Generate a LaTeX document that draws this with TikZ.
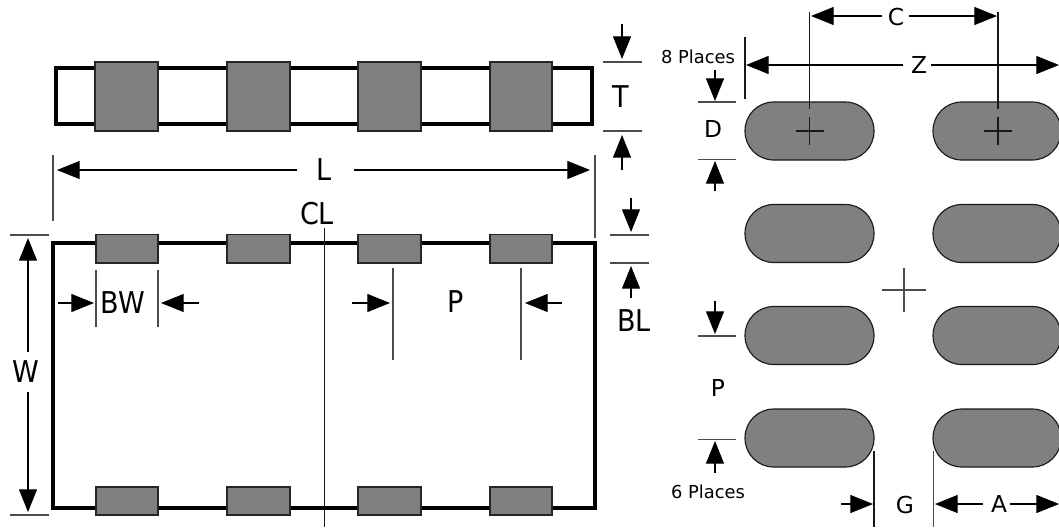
\documentclass[tikz,border=0pt]{standalone}
\usepackage{fontspec}
\setmainfont{DejaVu Sans}[FakeStretch=0.9]
\newfontfamily\widerface{DejaVu Sans}
\usetikzlibrary{arrows.meta}
\definecolor{padgray}{gray}{0.5}
\tikzset{
  x=0.75pt,y=-0.75pt,
  body/.style={draw=black,line width=2.3pt,fill=white},
  pad/.style={draw=black!85,line width=1.1pt,fill=padgray},
  land/.style={draw=black!90,line width=0.85pt,fill=padgray,rounded corners=21.5pt},
  ext/.style={draw=black!70,line width=0.8pt},
  extd/.style={draw=black!90,line width=0.8pt},
  dimar/.style={draw=black,line width=0.8pt,-{Triangle[length=17pt,width=13.5pt]}},
  big/.style={font=\fontsize{22.5}{25}\selectfont,inner sep=0pt},
  mid/.style={font=\widerface\fontsize{17.5}{20}\selectfont,inner sep=0pt},
  small/.style={font=\widerface\fontsize{13.4}{16}\selectfont,inner sep=0pt},
}
\newcommand{\padbox}[5]{\draw[pad] (#2,#3) rectangle (#4,#5) node[midway,inner sep=0pt] (#1) {};}
\newcommand{\landbox}[4]{\draw[land] (#2,#3) rectangle (#2+#4,#3+58) node[midway,inner sep=0pt] (#1) {};}
\begin{document}
\begin{tikzpicture}
\useasboundingbox (0,0) rectangle (1059,529);
% top view
\draw[body] (56,68) rectangle (592,124);
\padbox{ta}{95}{62}{158}{131}
\padbox{tb}{227}{62}{290}{131}
\padbox{tc}{358}{62}{421}{131}
\padbox{td}{490}{62}{552}{131}
% plan view
\draw[body] (53,243) rectangle (595,508);
\padbox{pa}{96}{234.5}{158}{263}
\padbox{pb}{227}{234.5}{290}{263}
\padbox{pc}{358}{234.5}{421}{263}
\padbox{pd}{490}{234.5}{552}{263}
\padbox{qa}{96}{487}{158}{515}
\padbox{qb}{227}{487}{290}{515}
\padbox{qc}{358}{487}{421}{515}
\padbox{qd}{490}{487}{552}{515}
% lands
\landbox{la}{745}{102}{129}
\landbox{lb}{933}{102}{128}
\landbox{lc}{745}{204.5}{129}
\landbox{ld}{933}{204.5}{128}
\landbox{le}{745}{306.5}{129}
\landbox{lf}{933}{306.5}{128}
\landbox{lg}{745}{409}{129}
\landbox{lh}{933}{409}{128}
% L
\node[big] (L) at (324,170) {L};
\coordinate (La1) at (297,170); \coordinate (La2) at (57,170);
\coordinate (Lb1) at (354,170); \coordinate (Lb2) at (590,170);
\draw[dimar] (La1) -- (La2);
\draw[dimar] (Lb1) -- (Lb2);
\coordinate (Le1) at (53,155); \coordinate (Le2) at (53,221);
\coordinate (Le3) at (595,155); \coordinate (Le4) at (595,238);
\draw[ext] (Le1) -- (Le2);
\draw[ext] (Le3) -- (Le4);
% CL
\node[big] (CL) at (317,214) {CL};
\coordinate (CL1) at (324.5,228); \coordinate (CL2) at (324.5,527);
\draw[extd] (CL1) -- (CL2);
% T
\node[big] (T) at (621,97) {T};
\coordinate (Tl1) at (603,62); \coordinate (Tl2) at (642,62);
\coordinate (Tl3) at (603,131); \coordinate (Tl4) at (642,131);
\draw[ext] (Tl1) -- (Tl2);
\draw[ext] (Tl3) -- (Tl4);
\coordinate (Ta1) at (622,24); \coordinate (Ta2) at (622,59);
\coordinate (Tb1) at (622,170); \coordinate (Tb2) at (622,135);
\draw[dimar] (Ta1) -- (Ta2);
\draw[dimar] (Tb1) -- (Tb2);
% BL
\node[big] (BL) at (634,321) {BL};
\coordinate (Bl1) at (610,235); \coordinate (Bl2) at (649,235);
\coordinate (Bl3) at (610,263); \coordinate (Bl4) at (649,263);
\draw[ext] (Bl1) -- (Bl2);
\draw[ext] (Bl3) -- (Bl4);
\coordinate (Ba1) at (631,198); \coordinate (Ba2) at (631,232);
\coordinate (Bb1) at (631,298); \coordinate (Bb2) at (631,266);
\draw[dimar] (Ba1) -- (Ba2);
\draw[dimar] (Bb1) -- (Bb2);
% P upper
\node[big] (P) at (456,302) {P};
\coordinate (Pe1) at (393,268); \coordinate (Pe2) at (393,360);
\coordinate (Pe3) at (521,268); \coordinate (Pe4) at (521,360);
\draw[ext] (Pe1) -- (Pe2);
\draw[ext] (Pe3) -- (Pe4);
\coordinate (Pa1) at (352,303); \coordinate (Pa2) at (390,303);
\coordinate (Pb1) at (562,303); \coordinate (Pb2) at (525,303);
\draw[dimar] (Pa1) -- (Pa2);
\draw[dimar] (Pb1) -- (Pb2);
% BW
\node[big] (BW) at (123,303) {BW};
\coordinate (We1) at (96,270); \coordinate (We2) at (96,327);
\coordinate (We3) at (158,270); \coordinate (We4) at (158,327);
\draw[ext] (We1) -- (We2);
\draw[ext] (We3) -- (We4);
\coordinate (Wa1) at (58,303); \coordinate (Wa2) at (94,303);
\coordinate (Wb1) at (199,303); \coordinate (Wb2) at (161,303);
\draw[dimar] (Wa1) -- (Wa2);
\draw[dimar] (Wb1) -- (Wb2);
% W
\node[big] (W) at (26,372) {W};
\coordinate (Wl1) at (10,235); \coordinate (Wl2) at (49,235);
\coordinate (Wl3) at (10,515); \coordinate (Wl4) at (49,515);
\draw[ext] (Wl1) -- (Wl2);
\draw[ext] (Wl3) -- (Wl4);
\coordinate (Wc1) at (28,352); \coordinate (Wc2) at (28,238);
\coordinate (Wd1) at (28,392); \coordinate (Wd2) at (28,512);
\draw[dimar] (Wc1) -- (Wc2);
\draw[dimar] (Wd1) -- (Wd2);
% C
\node[mid] (C) at (896,17) {C};
\coordinate (Ce1) at (809.5,12); \coordinate (Ce2) at (809.5,109);
\coordinate (Ce3) at (998,12); \coordinate (Ce4) at (998,109);
\draw[extd] (Ce1) -- (Ce2);
\draw[extd] (Ce3) -- (Ce4);
\coordinate (Ca1) at (882,16); \coordinate (Ca2) at (811,16);
\coordinate (Cb1) at (909,16); \coordinate (Cb2) at (997,16);
\draw[dimar] (Ca1) -- (Ca2);
\draw[dimar] (Cb1) -- (Cb2);
% crosses
\coordinate (Xa1) at (795.5,131); \coordinate (Xa2) at (823.5,131);
\coordinate (Xa3) at (809.5,117); \coordinate (Xa4) at (809.5,145);
\coordinate (Xb1) at (984,131); \coordinate (Xb2) at (1012,131);
\coordinate (Xb3) at (998,117); \coordinate (Xb4) at (998,145);
\coordinate (Xc1) at (882,290); \coordinate (Xc2) at (926,290);
\coordinate (Xc3) at (904,268); \coordinate (Xc4) at (904,312);
\draw[extd] (Xa1) -- (Xa2);
\draw[extd] (Xa3) -- (Xa4);
\draw[extd] (Xb1) -- (Xb2);
\draw[extd] (Xb3) -- (Xb4);
\draw[ext] (Xc1) -- (Xc2);
\draw[ext] (Xc3) -- (Xc4);
% Z
\node[mid] (Z) at (919,65) {Z};
\coordinate (Ze1) at (745,37); \coordinate (Ze2) at (745,99);
\draw[extd] (Ze1) -- (Ze2);
\coordinate (Za1) at (903,65); \coordinate (Za2) at (746,65);
\coordinate (Zb1) at (931,65); \coordinate (Zb2) at (1059,65);
\draw[dimar] (Za1) -- (Za2);
\draw[dimar] (Zb1) -- (Zb2);
% D
\node[small] (pl8) at (698,57) {8 Places};
\node[mid] (D) at (713,129) {D};
\coordinate (Dl1) at (698,102); \coordinate (Dl2) at (736,102);
\coordinate (Dl3) at (698,159.5); \coordinate (Dl4) at (736,159.5);
\draw[ext] (Dl1) -- (Dl2);
\draw[ext] (Dl3) -- (Dl4);
\coordinate (Da1) at (715,70); \coordinate (Da2) at (715,101);
\coordinate (Db1) at (715,191); \coordinate (Db2) at (715,161);
\draw[dimar] (Da1) -- (Da2);
\draw[dimar] (Db1) -- (Db2);
% P lower
\node[mid] (P2) at (718,388) {P};
\node[small] (pl6) at (708,492) {6 Places};
\coordinate (Ql1) at (698,336); \coordinate (Ql2) at (736,336);
\coordinate (Ql3) at (698,439.5); \coordinate (Ql4) at (736,439.5);
\draw[ext] (Ql1) -- (Ql2);
\draw[ext] (Ql3) -- (Ql4);
\coordinate (Qa1) at (715,301); \coordinate (Qa2) at (715,334);
\coordinate (Qb1) at (715,473); \coordinate (Qb2) at (715,441);
\draw[dimar] (Qa1) -- (Qa2);
\draw[dimar] (Qb1) -- (Qb2);
% G and A
\node[mid] (G) at (905,505) {G};
\node[mid] (A) at (999,504) {A};
\coordinate (Ge1) at (874,451); \coordinate (Ge2) at (874,527);
\coordinate (Ge3) at (933.5,451); \coordinate (Ge4) at (933.5,527);
\draw[extd] (Ge1) -- (Ge2);
\draw[ext] (Ge3) -- (Ge4);
\coordinate (Ga1) at (841,504); \coordinate (Ga2) at (873,504);
\coordinate (Aa1) at (983,504); \coordinate (Aa2) at (935,504);
\coordinate (Ab1) at (1010,504); \coordinate (Ab2) at (1059,504);
\draw[dimar] (Ga1) -- (Ga2);
\draw[dimar] (Aa1) -- (Aa2);
\draw[dimar] (Ab1) -- (Ab2);
\end{tikzpicture}
\end{document}
